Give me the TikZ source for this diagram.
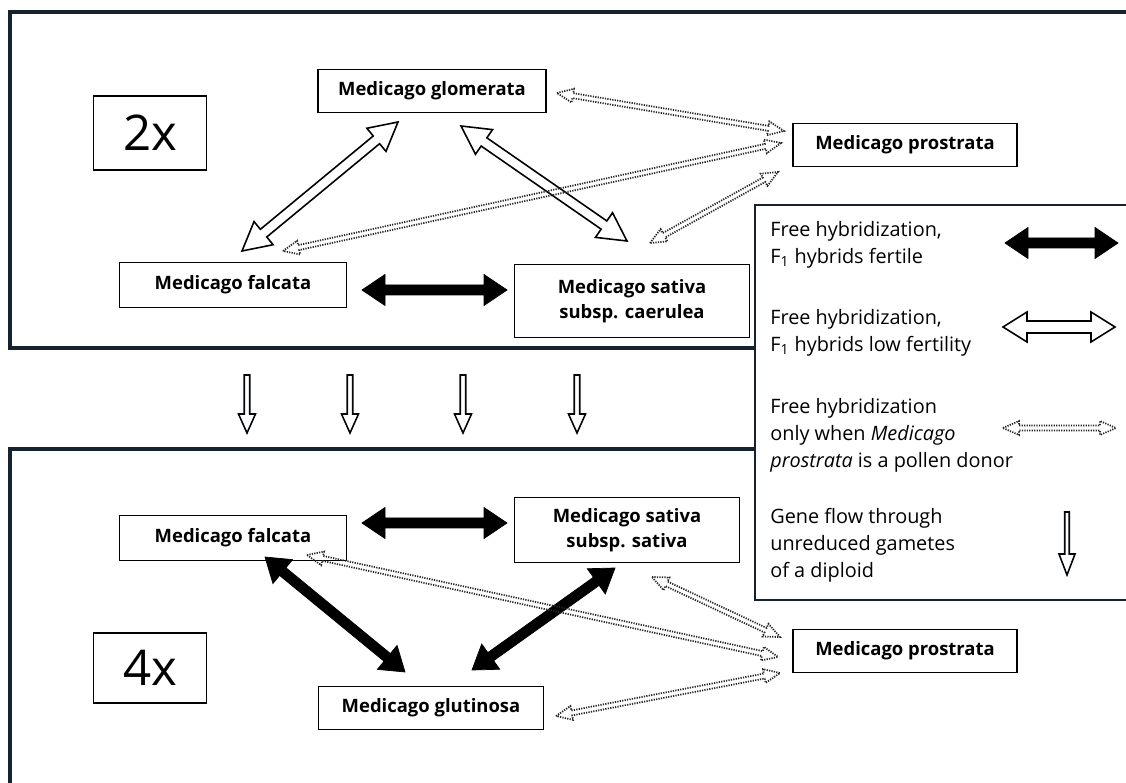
\documentclass[tikz,border=0pt]{standalone}
\usepackage{fontspec}
\setmainfont{Open Sans}
\usetikzlibrary{calc}
\definecolor{framenavy}{HTML}{14232F}

\begin{document}
\begin{tikzpicture}[
  x=0.02cm, y=-0.02cm,
  box/.style={rectangle,draw,line width=1.1pt,fill=white,align=center,inner sep=0pt,
              font=\fontsize{10.5}{14.5}\selectfont\bfseries},
  ploidy/.style={rectangle,draw,line width=1.1pt,fill=white,inner sep=0pt,
                 minimum width=2.26cm,font=\fontsize{28}{28}\selectfont},
  legendtext/.style={anchor=north west,align=left,inner sep=0pt,
                     font=\fontsize{11.3}{15.4}\selectfont},
  frame/.style={draw=framenavy,line width=2.3pt},
  dblarrow/.style n args={3}{to path={
    -- ($($(\tikztostart)!#1!(\tikztotarget)$)!#2!90:(\tikztotarget)$)
    -- ($($(\tikztostart)!#1!(\tikztotarget)$)!#3!90:(\tikztotarget)$)
    -- ($($(\tikztotarget)!#1!(\tikztostart)$)!#3!-90:(\tikztostart)$)
    -- ($($(\tikztotarget)!#1!(\tikztostart)$)!#2!-90:(\tikztostart)$)
    -- (\tikztotarget)
    -- ($($(\tikztotarget)!#1!(\tikztostart)$)!#2!90:(\tikztostart)$)
    -- ($($(\tikztotarget)!#1!(\tikztostart)$)!#3!90:(\tikztostart)$)
    -- ($($(\tikztostart)!#1!(\tikztotarget)$)!#3!-90:(\tikztotarget)$)
    -- ($($(\tikztostart)!#1!(\tikztotarget)$)!#2!-90:(\tikztotarget)$)
    -- cycle}},
  sglarrow/.style n args={3}{to path={
    -- ($(\tikztostart)!#3!90:(\tikztotarget)$)
    -- ($($(\tikztotarget)!#1!(\tikztostart)$)!#3!-90:(\tikztostart)$)
    -- ($($(\tikztotarget)!#1!(\tikztostart)$)!#2!-90:(\tikztostart)$)
    -- (\tikztotarget)
    -- ($($(\tikztotarget)!#1!(\tikztostart)$)!#2!90:(\tikztostart)$)
    -- ($($(\tikztotarget)!#1!(\tikztostart)$)!#3!90:(\tikztostart)$)
    -- ($(\tikztostart)!#3!-90:(\tikztotarget)$)
    -- cycle}},
  fertile/.style={dblarrow={0.46cm}{0.31cm}{0.1cm},fill=black,draw=black,line width=0.4pt,line join=miter},
  lowfert/.style={dblarrow={0.56cm}{0.3cm}{0.1cm},fill=white,draw=black,line width=0.9pt},
  pollen/.style={dblarrow={0.32cm}{0.14cm}{0.05cm},draw=black!85,line width=1pt,
                 dash pattern=on 0.7pt off 0.7pt},
  gameteflow/.style={sglarrow={0.38cm}{0.17cm}{0.055cm},fill=white,draw=black!80!framenavy,line width=0.9pt}
]
  \useasboundingbox (0,0) rectangle (1126,783);

  \draw[frame] (1140,348) -- (10,348) -- (10,12) -- (1140,12);
  \draw[frame] (10,800) -- (10,449) -- (1140,449);
  \draw[frame,line width=1.2pt,fill=white] (755,205) rectangle (1140,600);

  \node[ploidy,minimum height=1.48cm] (twoX)  at (150,133) {2x};
  \node[ploidy,minimum height=1.4cm]  (fourX) at (150,668) {4x};

  \node[box,minimum width=4.56cm,minimum height=0.86cm] (glomerata)  at (432,91)  {Medicago glomerata};
  \node[box,minimum width=4.48cm,minimum height=0.86cm] (prostrataA) at (905,145) {Medicago prostrata};
  \node[box,minimum width=4.54cm,minimum height=0.9cm]  (falcataA)   at (233,285) {Medicago falcata};
  \node[box,minimum width=4.7cm,minimum height=1.46cm]  (caerulea)   at (632,301) {Medicago sativa\\subsp. caerulea};

  \node[box,minimum width=4.54cm,minimum height=0.9cm]  (falcataB)   at (233,538) {Medicago falcata};
  \node[box,minimum width=4.5cm,minimum height=1.3cm]   (sativaB)    at (627,530) {Medicago sativa\\subsp. sativa};
  \node[box,minimum width=4.48cm,minimum height=0.86cm] (prostrataB) at (905,651) {Medicago prostrata};
  \node[box,minimum width=4.5cm,minimum height=0.86cm]  (glutinosa)  at (431,708) {Medicago glutinosa};

  \coordinate (falA-glo)  at (242,251);  \coordinate (glo-falA)  at (398,122);
  \coordinate (glo-cae)   at (461,126);  \coordinate (cae-glo)   at (627,241);
  \coordinate (falA-cae)  at (362,290);  \coordinate (cae-falA)  at (507,290);
  \coordinate (glo-proA)  at (557,93);   \coordinate (proA-glo)  at (784,131);
  \coordinate (falA-proA) at (283,251);  \coordinate (proA-falA) at (781,143);
  \coordinate (cae-proA)  at (650,243);  \coordinate (proA-cae)  at (778,172);

  \draw[lowfert] (falA-glo) to (glo-falA);
  \draw[lowfert] (glo-cae) to (cae-glo);
  \draw[fertile] (falA-cae) to (cae-falA);
  \draw[pollen] (glo-proA) to (proA-glo);
  \draw[pollen] (falA-proA) to (proA-falA);
  \draw[pollen] (cae-proA) to (proA-cae);

  \foreach \x [count=\i] in {247,350,463,577}{
    \coordinate (top\i) at (\x,375);
    \coordinate (bot\i) at (\x,433);
    \draw[gameteflow] (top\i) to (bot\i);
  }

  \coordinate (falB-satB) at (362,523);  \coordinate (satB-falB) at (507,523);
  \coordinate (falB-glu)  at (265,557);  \coordinate (glu-falB)  at (405,672);
  \coordinate (satB-glu)  at (615,568);  \coordinate (glu-satB)  at (472,670);
  \coordinate (falB-proB) at (307,555);  \coordinate (proB-falB) at (778,657);
  \coordinate (satB-proB) at (652,577);  \coordinate (proB-satB) at (780,637);
  \coordinate (glu-proB)  at (556,716);  \coordinate (proB-glu)  at (780,673);

  \draw[fertile] (falB-satB) to (satB-falB);
  \draw[fertile] (falB-glu) to (glu-falB);
  \draw[fertile] (satB-glu) to (glu-satB);
  \draw[pollen] (falB-proB) to (proB-falB);
  \draw[pollen] (satB-proB) to (proB-satB);
  \draw[pollen] (glu-proB) to (proB-glu);

  \node[legendtext] (legFertile) at (770,221) {Free hybridization,\\F\textsubscript{1} hybrids fertile};
  \node[legendtext] (legLow)     at (770,309) {Free hybridization,\\F\textsubscript{1} hybrids low fertility};
  \node[legendtext] (legPollen)  at (770,398) {Free hybridization\\only when \textit{Medicago}\\\textit{prostrata} is a pollen donor};
  \node[legendtext] (legGamete)  at (770,508) {Gene flow through\\unreduced gametes\\of a diploid};

  \coordinate (kf1) at (1005,243); \coordinate (kf2) at (1118,243);
  \coordinate (kl1) at (1003,327); \coordinate (kl2) at (1115,327);
  \coordinate (kp1) at (1003,428); \coordinate (kp2) at (1116,428);
  \coordinate (kg1) at (1067,512); \coordinate (kg2) at (1067,575);

  \draw[fertile] (kf1) to (kf2);
  \draw[lowfert,dblarrow={0.48cm}{0.3cm}{0.12cm}] (kl1) to (kl2);
  \draw[pollen] (kp1) to (kp2);
  \draw[gameteflow,sglarrow={0.42cm}{0.16cm}{0.045cm}] (kg1) to (kg2);
\end{tikzpicture}
\end{document}
